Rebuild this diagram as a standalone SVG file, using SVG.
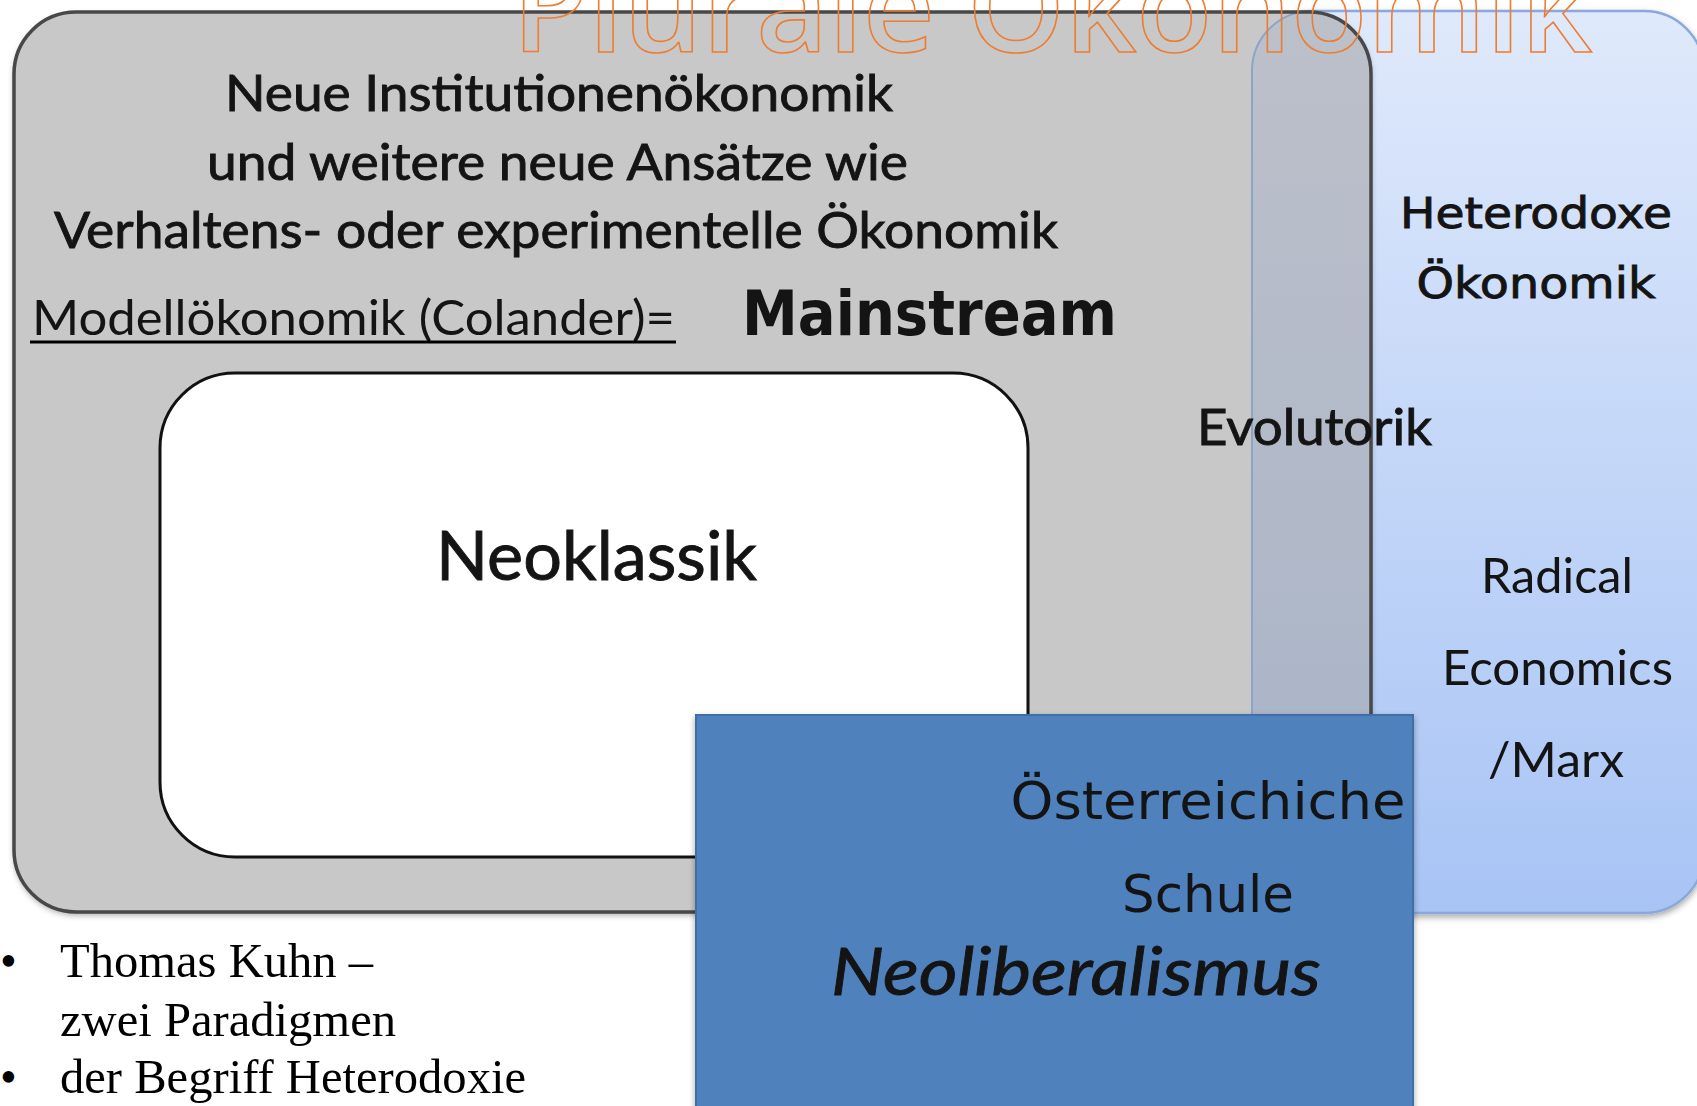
<svg xmlns="http://www.w3.org/2000/svg" width="1697" height="1106" viewBox="0 0 1697 1106">
  <defs>
    <linearGradient id="heteroGrad" x1="0" y1="0" x2="0" y2="1">
      <stop offset="0" stop-color="#dfe9fb"/>
      <stop offset="1" stop-color="#a8c4f5"/>
    </linearGradient>
    <linearGradient id="overlapGrad" x1="0" y1="0" x2="0" y2="1">
      <stop offset="0" stop-color="#bcc0c9"/>
      <stop offset="1" stop-color="#a8b3c8"/>
    </linearGradient>
    <filter id="shadow" x="-5%" y="-5%" width="110%" height="115%">
      <feDropShadow dx="0" dy="3" stdDeviation="3" flood-color="#000" flood-opacity="0.35"/>
    </filter>
    <clipPath id="grayClip">
      <rect x="14" y="12" width="1357" height="900" rx="62" ry="62"/>
    </clipPath>
    <style>
      .calibri { font-family: Lato, "Open Sans", "Liberation Sans", sans-serif; fill: #141414; }
      .wide { font-family: "DejaVu Sans", Verdana, sans-serif; fill: #141414; }
      .heavy { stroke: #141414; stroke-width: 0.9; }
      .serif { font-family: "Liberation Serif", "Times New Roman", serif; font-size: 48px; fill: #000; }
      .mid { text-anchor: middle; }
    </style>
  </defs>

  <rect width="1697" height="1106" fill="#ffffff"/>

  <g id="heterodoxe">
    <rect x="1252" y="11" width="452" height="902" rx="60" ry="60" fill="url(#heteroGrad)" stroke="#8aa9d8" stroke-width="2.5" filter="url(#shadow)"/>
  </g>

  <g id="mainstream">
    <rect x="14" y="12" width="1357" height="900" rx="62" ry="62" fill="#c8c8c8" filter="url(#shadow)"/>
    <rect x="1252" y="11" width="452" height="902" rx="60" ry="60" fill="url(#overlapGrad)" clip-path="url(#grayClip)"/>
    <rect x="1252" y="11" width="452" height="902" rx="60" ry="60" fill="none" stroke="#8ea4c6" stroke-width="2" clip-path="url(#grayClip)"/>
    <rect x="14" y="12" width="1357" height="900" rx="62" ry="62" fill="none" stroke="#484848" stroke-width="3.5"/>
  </g>

  <g id="neoklassik">
    <rect x="160" y="373" width="868" height="484" rx="75" ry="75" fill="#ffffff" stroke="#111111" stroke-width="3"/>
    <text class="calibri heavy" x="436" y="580" font-size="67" textLength="321" lengthAdjust="spacingAndGlyphs">Neoklassik</text>
  </g>

  <g id="neoliberalismus">
    <rect x="696" y="715" width="717" height="400" fill="#4f81bd" stroke="#3f6ea6" stroke-width="2" filter="url(#shadow)"/>
    <text class="wide mid" x="1208" y="819" font-size="52" textLength="395" lengthAdjust="spacingAndGlyphs">Österreichiche</text>
    <text class="wide mid" x="1208" y="912" font-size="52" textLength="172" lengthAdjust="spacingAndGlyphs">Schule</text>
    <text class="calibri heavy" x="831" y="995" font-size="66" font-style="italic" textLength="490" lengthAdjust="spacingAndGlyphs">Neoliberalismus</text>
  </g>

  <g id="mainstream-labels">
    <text class="calibri mid heavy" x="559" y="111" font-size="51" textLength="668" lengthAdjust="spacingAndGlyphs">Neue Institutionenökonomik</text>
    <text class="calibri mid heavy" x="557.5" y="180" font-size="51" textLength="701" lengthAdjust="spacingAndGlyphs">und weitere neue Ansätze wie</text>
    <text class="calibri mid heavy" x="556" y="248" font-size="51" textLength="1004" lengthAdjust="spacingAndGlyphs">Verhaltens- oder experimentelle Ökonomik</text>
    <text class="calibri" x="32" y="335" font-size="47.5" textLength="643" lengthAdjust="spacingAndGlyphs" fill="#000">Modellökonomik (Colander)=</text>
    <line x1="30" y1="342" x2="676" y2="342" stroke="#000" stroke-width="3"/>
    <text class="wide" x="742" y="335" font-size="62" font-weight="bold" textLength="375" lengthAdjust="spacingAndGlyphs">Mainstream</text>
  </g>

  <g id="heterodoxe-labels">
    <text class="wide mid heavy" x="1536" y="228" font-size="43" textLength="272" lengthAdjust="spacingAndGlyphs">Heterodoxe</text>
    <text class="wide mid heavy" x="1536" y="298" font-size="43" textLength="239" lengthAdjust="spacingAndGlyphs">Ökonomik</text>
    <text class="calibri mid" x="1557" y="593" font-size="47.5" textLength="152" lengthAdjust="spacingAndGlyphs" fill="#000">Radical</text>
    <text class="calibri mid" x="1557.5" y="685" font-size="47.5" textLength="231" lengthAdjust="spacingAndGlyphs" fill="#000">Economics</text>
    <text class="calibri mid" x="1556" y="777" font-size="47.5" textLength="136" lengthAdjust="spacingAndGlyphs" fill="#000">/Marx</text>
  </g>

  <g id="evolutorik">
    <text class="calibri heavy" x="1197" y="445" font-size="51" textLength="235" lengthAdjust="spacingAndGlyphs">Evolutorik</text>
  </g>

  <g id="connectors"></g>

  <g id="bullets">
    <text class="serif" x="0" y="977">•</text>
    <text class="serif" x="60" y="977" textLength="313" lengthAdjust="spacingAndGlyphs">Thomas Kuhn –</text>
    <text class="serif" x="60" y="1036" textLength="336" lengthAdjust="spacingAndGlyphs">zwei Paradigmen</text>
    <text class="serif" x="0" y="1093">•</text>
    <text class="serif" x="60" y="1093" textLength="466" lengthAdjust="spacingAndGlyphs">der Begriff Heterodoxie</text>
  </g>

  <g id="title">
    <text x="512" y="52" font-family="'Open Sans', Lato, sans-serif" font-size="125" font-weight="600" fill="none" stroke="#ed7d31" stroke-width="1.6" textLength="1080" lengthAdjust="spacingAndGlyphs">Plurale Ökonomik</text>
  </g>
</svg>
